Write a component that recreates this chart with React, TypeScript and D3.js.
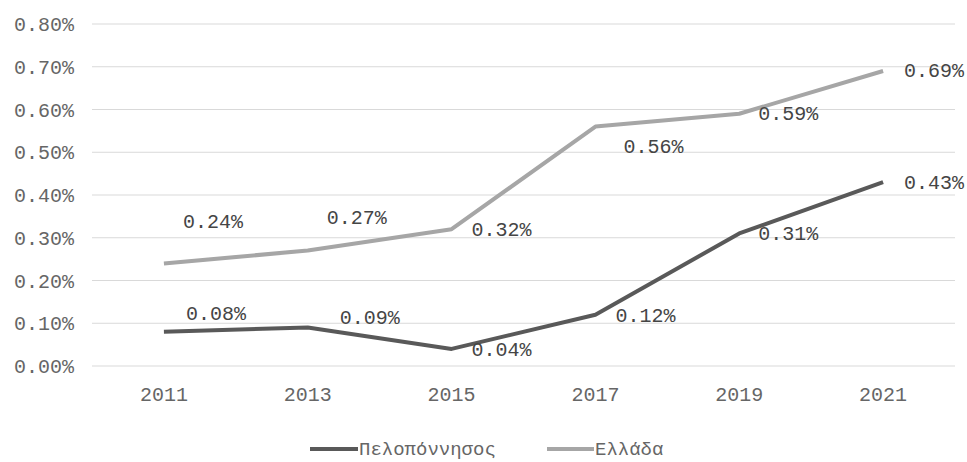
import React from "react";
import * as d3 from "d3";

const years = ["2011", "2013", "2015", "2017", "2019", "2021"];
const peloponnisos = [0.08, 0.09, 0.04, 0.12, 0.31, 0.43];
const ellada = [0.24, 0.27, 0.32, 0.56, 0.59, 0.69];
const yTicks = [0, 0.1, 0.2, 0.3, 0.4, 0.5, 0.6, 0.7, 0.8];
const seriesNames = ["Πελοπόννησος", "Ελλάδα"];

// label offsets (layout, not data)
const pelLabelOffsets: [number, number][] = [
  [22, -19], [32, -11], [20, 0], [20, 0], [19, 0], [21, 0],
];
const ellLabelOffsets: [number, number][] = [
  [19, -42], [19, -34], [20, 0], [28, 19], [19, -1], [21, -1],
];

const W = 967;
const H = 462;
const FONT = "'Liberation Mono', 'Courier New', monospace";
const TEXT = "#666666";

export default function App() {
  const x = d3.scaleBand<string>().domain(years).range([92, 955]);
  const y = d3.scaleLinear().domain([0, 0.8]).range([366, 24]);
  const cx = (yr: string) => (x(yr) ?? 0) + x.bandwidth() / 2;
  const line = d3
    .line<number>()
    .x((_, i) => cx(years[i]))
    .y((d) => y(d));

  const series = [
    { name: seriesNames[0], values: peloponnisos, color: "#595959", offs: pelLabelOffsets },
    { name: seriesNames[1], values: ellada, color: "#a6a6a6", offs: ellLabelOffsets },
  ];

  const fmt = (v: number) => v.toFixed(2) + "%";

  return (
    <svg
      width={W}
      height={H}
      style={{ position: "absolute", left: 0, top: 0, background: "#fff" }}
      fontFamily={FONT}
    >
      <rect width={W} height={H} fill="#fff" />
      {yTicks.map((t) => (
        <g key={t}>
          <line x1={92} x2={955} y1={y(t)} y2={y(t)} stroke="#d9d9d9" strokeWidth={1} />
          <text x={74} y={y(t)} dy="0.35em" textAnchor="end" fontSize={20} fill={TEXT}>
            {fmt(t)}
          </text>
        </g>
      ))}
      {years.map((yr) => (
        <text key={yr} x={cx(yr)} y={394} dy="0.35em" textAnchor="middle" fontSize={20} fill={TEXT}>
          {yr}
        </text>
      ))}
      {series.map((s) => (
        <path
          key={s.name}
          d={line(s.values) ?? ""}
          fill="none"
          stroke={s.color}
          strokeWidth={4}
          strokeLinejoin="round"
        />
      ))}
      {series.map((s) =>
        s.values.map((v, i) => (
          <text
            key={s.name + i}
            x={cx(years[i]) + s.offs[i][0]}
            y={y(v) + s.offs[i][1]}
            dy="0.35em"
            fontSize={20}
            fill="#454545"
          >
            {fmt(v)}
          </text>
        ))
      )}
      <g>
        <line x1={310} x2={358} y1={449} y2={449} stroke={series[0].color} strokeWidth={4} />
        <text x={359} y={449} dy="0.33em" fontSize={19} fill={TEXT}>
          {seriesNames[0]}
        </text>
        <line x1={547} x2={594} y1={449} y2={449} stroke={series[1].color} strokeWidth={4} />
        <text x={595} y={449} dy="0.33em" fontSize={19} fill={TEXT}>
          {seriesNames[1]}
        </text>
      </g>
    </svg>
  );
}
